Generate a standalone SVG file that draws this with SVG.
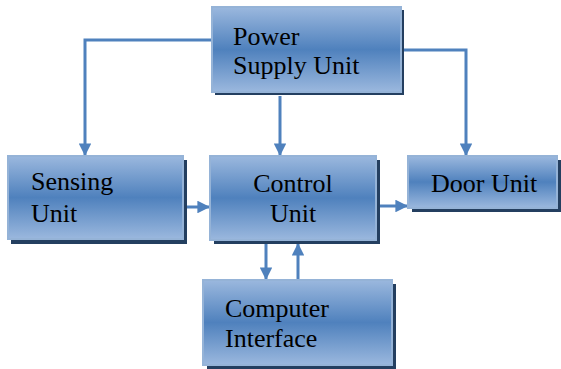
<svg xmlns="http://www.w3.org/2000/svg" width="561" height="369" viewBox="0 0 561 369">
<defs>
<linearGradient id="g" x1="0" y1="0" x2="0" y2="1">
<stop offset="0" stop-color="#9bb8de"/>
<stop offset="0.5" stop-color="#4f81bd"/>
<stop offset="1" stop-color="#9bb8de"/>
</linearGradient>
<marker id="ah" viewBox="0 0 10 10" refX="10" refY="5" markerWidth="4.2" markerHeight="4.2" orient="auto" markerUnits="strokeWidth">
<path d="M0,0 L10,5 L0,10 Z" fill="#4f81bd"/>
</marker>
<style>
.sh{fill:#243f60}
.bx{fill:url(#g);stroke:#95b3d7;stroke-width:2}
.t{font-family:"Liberation Serif","Times New Roman",serif;font-size:26px;fill:#000}
.c{fill:none;stroke:#4f81bd;stroke-width:3;marker-end:url(#ah)}
</style>
</defs>
<g id="connectors">
<path class="c" d="M212,40 H85 V156"/>
<path class="c" d="M401,50 H466 V156"/>
<path class="c" d="M280,96 V156"/>
<path class="c" d="M186,207 H210"/>
<path class="c" d="M379,206 H408"/>
<path class="c" d="M266,244 V280"/>
<path class="c" d="M298,280 V243"/>
</g>
<g id="power">
<rect class="sh" x="215" y="10" width="189" height="85"/>
<rect class="bx" x="212" y="7" width="189" height="85"/>
<text class="t" x="233" y="45">Power</text>
<text class="t" x="233" y="74">Supply Unit</text>
</g>
<g id="sensing">
<rect class="sh" x="11" y="160" width="176" height="84"/>
<rect class="bx" x="8" y="156" width="175" height="83"/>
<text class="t" x="31" y="190">Sensing</text>
<text class="t" x="31" y="222">Unit</text>
</g>
<g id="control">
<rect class="sh" x="214" y="160" width="166" height="84"/>
<rect class="bx" x="210" y="156" width="166" height="84"/>
<text class="t" x="293" y="192" text-anchor="middle">Control</text>
<text class="t" x="293" y="222" text-anchor="middle">Unit</text>
</g>
<g id="door">
<rect class="sh" x="412" y="160" width="149" height="52"/>
<rect class="bx" x="408" y="156" width="149" height="52"/>
<text class="t" x="431" y="192">Door Unit</text>
</g>
<g id="computer">
<rect class="sh" x="207" y="284" width="189" height="85"/>
<rect class="bx" x="203" y="280" width="189" height="85"/>
<text class="t" x="225" y="317">Computer</text>
<text class="t" x="225" y="347">Interface</text>
</g>
</svg>
